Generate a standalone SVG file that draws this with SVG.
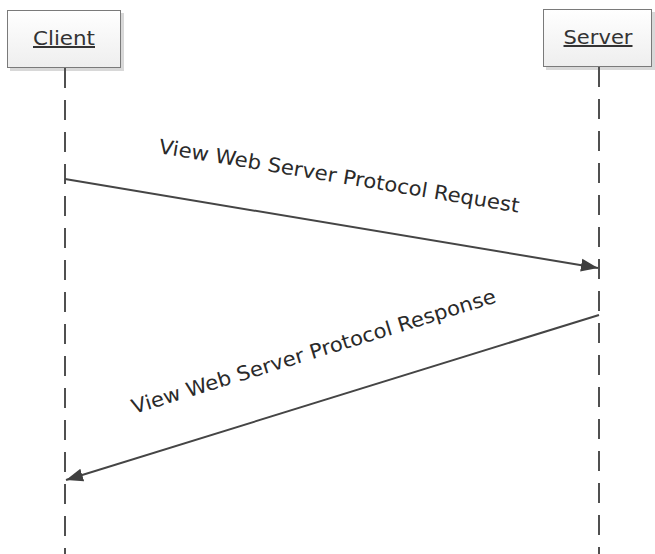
<svg xmlns="http://www.w3.org/2000/svg" width="655" height="554" viewBox="0 0 655 554">
<defs>
<linearGradient id="boxfill" x1="0" y1="0" x2="0" y2="1">
<stop offset="0" stop-color="#ffffff"/>
<stop offset="1" stop-color="#eeeeee"/>
</linearGradient>
<marker id="arrow" markerUnits="userSpaceOnUse" markerWidth="18" markerHeight="14" refX="17" refY="7" orient="auto">
<path d="M0,0.5 L17,7 L0,13.5 z" fill="#404040"/>
</marker>
<style>
.box{fill:url(#boxfill);stroke:#7a7a7a;stroke-width:1}
.shadow{fill:#d8d8d8}
.life{stroke:#505050;stroke-width:2;stroke-dasharray:20 12;fill:none}
.msg{stroke:#454545;stroke-width:2;fill:none;marker-end:url(#arrow)}
.title{font-family:"DejaVu Sans",Verdana,sans-serif;font-size:20px;fill:#333;text-decoration:underline}
.label{font-family:"DejaVu Sans",Verdana,sans-serif;font-size:20px;fill:#2a2a2a}
</style>
</defs>
<rect width="655" height="554" fill="#ffffff"/>
<g id="client">
<rect class="shadow" x="10" y="13" width="114" height="58"/>
<rect class="box" x="7.5" y="10.5" width="113" height="57"/>
<text class="title" x="64" y="45" text-anchor="middle" textLength="62" lengthAdjust="spacingAndGlyphs">Client</text>
</g>
<g id="server">
<rect class="shadow" x="546" y="12" width="109" height="58"/>
<rect class="box" x="543.5" y="9.5" width="108" height="57"/>
<text class="title" x="598" y="44" text-anchor="middle" textLength="69" lengthAdjust="spacingAndGlyphs">Server</text>
</g>
<g id="connectors">
<line class="life" x1="65" y1="68" x2="65" y2="554"/>
<line class="life" x1="599" y1="67" x2="599" y2="554"/>
<line class="msg" x1="65" y1="179" x2="598" y2="268"/>
<line class="msg" x1="599" y1="315" x2="66" y2="480"/>
<text class="label" transform="translate(158,153) rotate(9.4)" textLength="365" lengthAdjust="spacingAndGlyphs">View Web Server Protocol Request</text>
<text class="label" transform="translate(134,414) rotate(-17.1)" textLength="380" lengthAdjust="spacingAndGlyphs">View Web Server Protocol Response</text>
</g>
</svg>
